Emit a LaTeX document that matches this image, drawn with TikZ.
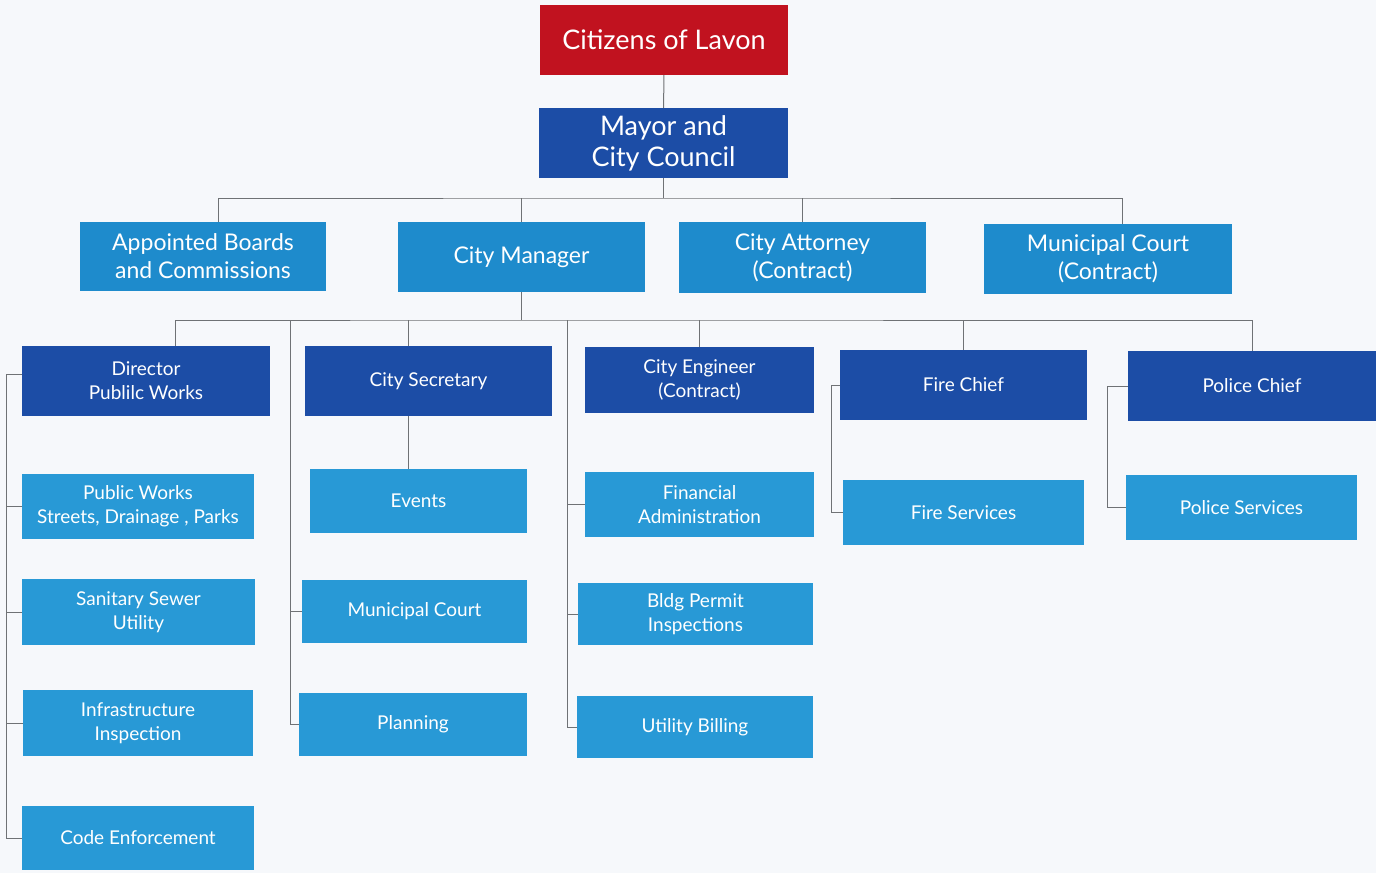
\documentclass[tikz,border=0pt]{standalone}
\usepackage{fontspec}
\setmainfont{Lato}
\usepackage{tikz}
\usetikzlibrary{calc}

\definecolor{lavonred}{HTML}{C1121F}
\definecolor{lavondark}{HTML}{1C4DA6}
\definecolor{lavonmid}{HTML}{1E8BCC}
\definecolor{lavonlight}{HTML}{2899D6}
\definecolor{lavonline}{HTML}{6F7275}
\definecolor{lavonback}{HTML}{F6F8FB}

\tikzset{
    unit/.style={rectangle, text=white, align=center, inner sep=0pt},
    citizens/.style={unit, fill=lavonred, minimum width=248, minimum height=70, font=\fontsize{27}{31}\selectfont},
    council/.style={unit, fill=lavondark, minimum width=249, minimum height=70, font=\fontsize{27}{31}\selectfont},
    office/.style={unit, fill=lavonmid, minimum width=247, minimum height=70, font=\fontsize{23}{28}\selectfont},
    head/.style={unit, fill=lavondark, minimum width=248, minimum height=70, font=\fontsize{19}{24}\selectfont},
    dept/.style={unit, fill=lavonlight, minimum width=232, minimum height=64, font=\fontsize{19}{24}\selectfont},
    link/.style={draw=lavonline, line width=1pt}
}

\begin{document}
\begin{tikzpicture}[x=1pt, y=-1pt]
    \useasboundingbox[fill=lavonback] (0,0) rectangle (1376,873);

    % top of the chart
    \node[citizens] (citizens) at (664,40) {Citizens of Lavon};
    \node[council] (mayor) at (663.5,143) {Mayor and\\City Council};

    % second row
    \node[office, minimum width=246, minimum height=69] (boards) at (203,256.5) {Appointed Boards\\and Commissions};
    \node[office] (manager) at (521.5,257) {City Manager};
    \node[office, minimum height=71] (attorney) at (802.5,257.5) {City Attorney\\(Contract)};
    \node[office, minimum width=248] (court) at (1108,259) {Municipal Court\\(Contract)};

    % department heads
    \node[head] (director) at (146,381) {Director\\Publilc Works};
    \node[head, minimum width=247] (secretary) at (428.5,381) {City Secretary};
    \node[head, minimum width=229, minimum height=66] (engineer) at (699.5,380) {City Engineer\\(Contract)};
    \node[head, minimum width=247] (firechief) at (963.5,385) {Fire Chief};
    \node[head] (policechief) at (1252,386) {Police Chief};

    % departments
    \node[dept, minimum height=65] (pworks) at (138,506.5) {Public Works\\Streets, Drainage , Parks};
    \node[dept, minimum width=233, minimum height=66] (sewer) at (138.5,612) {Sanitary Sewer\\Utility};
    \node[dept, minimum width=230, minimum height=66] (infra) at (138,723) {Infrastructure\\Inspection};
    \node[dept] (code) at (138,838) {Code Enforcement};

    \node[dept, minimum width=217] (events) at (418.5,501) {Events};
    \node[dept, minimum width=225, minimum height=63] (mcourt) at (414.5,611.5) {Municipal Court};
    \node[dept, minimum width=228, minimum height=63] (planning) at (413,724.5) {Planning};

    \node[dept, minimum width=229, minimum height=65] (finance) at (699.5,504.5) {Financial\\Administration};
    \node[dept, minimum width=235, minimum height=62] (bldg) at (695.5,614) {Bldg Permit\\Inspections};
    \node[dept, minimum width=236, minimum height=62] (billing) at (695,727) {Utility Billing};

    \node[dept, minimum width=241, minimum height=65] (fireserv) at (963.5,512.5) {Fire Services};
    \node[dept, minimum width=231, minimum height=65] (policeserv) at (1241.5,507.5) {Police Services};

    % bus lines and spines
    \coordinate (bus1) at (663.5,198);
    \coordinate (bus2) at (521.5,320);
    \coordinate (sp1) at (6,374);
    \coordinate (sp2) at (290,320);
    \coordinate (sp3) at (567,320);
    \coordinate (sp4) at (831,385);
    \coordinate (sp5) at (1107,386);
    \coordinate (sectop) at ($(secretary.north)+(-20,0)$);
    \coordinate (secbot) at ($(secretary.south)+(-20,0)$);

    \draw[link] (citizens) -- (mayor);
    \draw[link] (mayor) -- (bus1);
    \draw[link] ($(boards.north)+(15,0)$) |- (bus1) -| ($(court.north)+(14,0)$);
    \draw[link] (manager.north) -- (manager.north |- bus1);
    \draw[link] (attorney.north) -- (attorney.north |- bus1);

    \draw[link] (manager) -- (bus2);
    \draw[link] ($(director.north)+(29,0)$) |- (bus2) -| (policechief.north);
    \draw[link] (sectop) -- (sectop |- bus2);
    \draw[link] (engineer.north) -- (engineer.north |- bus2);
    \draw[link] (firechief.north) -- (firechief.north |- bus2);
    \draw[link] (secbot) -- (secbot |- events.north);

    \draw[link] ($(director.west)+(0,-7)$) -- (sp1) |- (code.west);
    \foreach \n in {pworks, sewer, infra}
        \draw[link] (\n.west) -- (\n.west -| sp1);
    \draw[link] (sp2) |- (planning.west);
    \draw[link] (mcourt.west) -- (mcourt.west -| sp2);
    \draw[link] (sp3) |- (billing.west);
    \foreach \n in {finance, bldg}
        \draw[link] (\n.west) -- (\n.west -| sp3);
    \draw[link] (firechief.west) -- (sp4) |- (fireserv.west);
    \draw[link] (policechief.west) -- (sp5) |- (policeserv.west);
\end{tikzpicture}
\end{document}
